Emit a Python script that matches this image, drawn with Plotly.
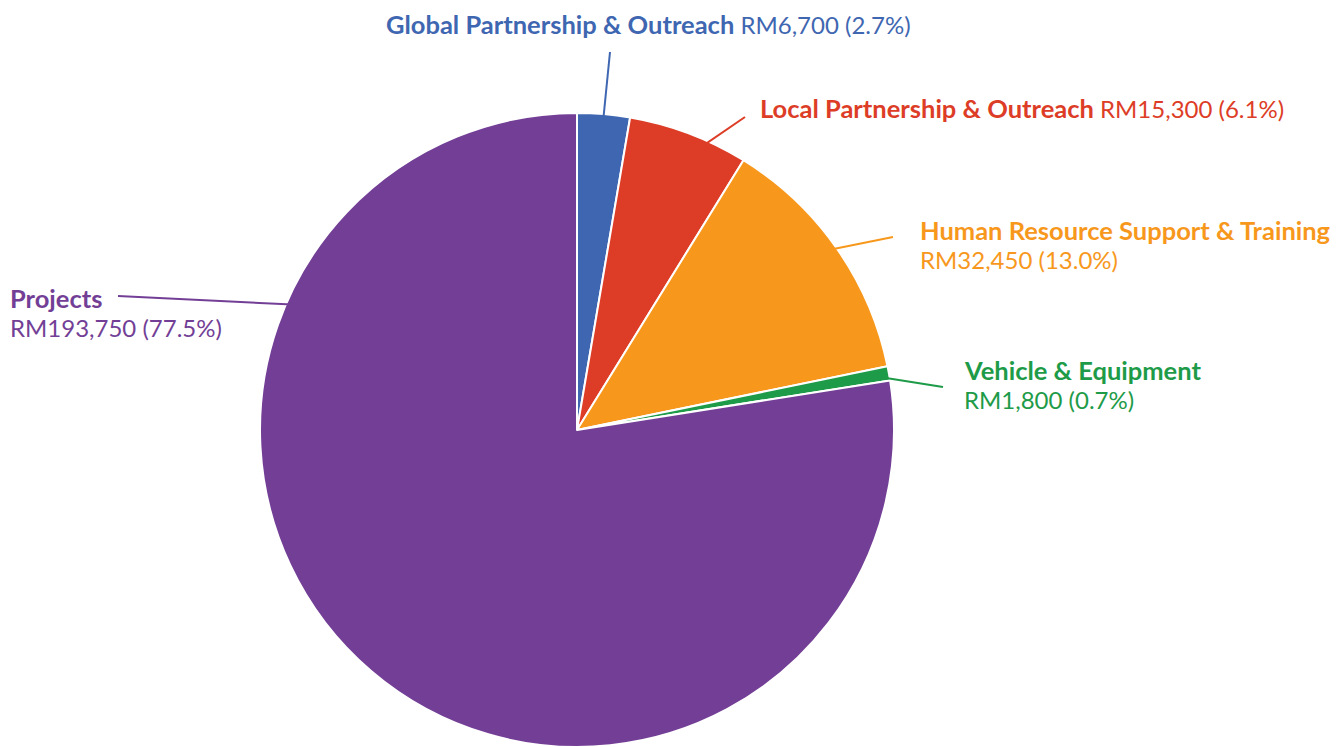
import math
import plotly.graph_objects as go

# ---- data ----
categories = ["Global Partnership & Outreach", "Local Partnership & Outreach",
              "Human Resource Support & Training", "Vehicle & Equipment", "Projects"]
values = [6700, 15300, 32450, 1800, 193750]
colors = ["#3F67B1", "#DD3D26", "#F7981D", "#1E9B48", "#733F96"]

# ---- layout constants (pixels) ----
W, H = 1337, 747
CX, CY, R = 577, 430, 317
# label anchor (left x, middle y of first line), two-line flag, leader outer end, leader position within slice
label_pos = [(384, 24), (758, 108), (918, 230), (962, 370), (8, 298)]
two_line = [False, False, True, True, True]
leader_end = [(610, 52), (745, 117), (893, 237), (943, 387), (118, 296)]
leader_frac = [0.5, 0.62, 0.48, 0.6, 0.764]
LINE_GAP = 29
FONT = "Lato"
FS_BOLD = 25.5
FS_REG = 24

total = sum(values)
pcts = [v / total * 100 for v in values]

fig = go.Figure(go.Pie(
    labels=categories, values=values, sort=False, direction="clockwise", rotation=0,
    marker=dict(colors=colors, line=dict(color="white", width=2)),
    textinfo="none", hoverinfo="label+value+percent", showlegend=False,
    domain=dict(x=[(CX - R) / W, (CX + R) / W],
                y=[max(0, (H - CY - R) / H), min(1, (H - CY + R) / H)]),
))


def px2paper(x, y):
    return x / W, 1 - y / H


def add_text(text, x, y, color, size):
    lx, ly = px2paper(x, y)
    annotations.append(dict(text=text, x=lx, y=ly, xref="paper", yref="paper",
                            xanchor="left", yanchor="middle", align="left", showarrow=False,
                            font=dict(family=FONT, size=size, color=color)))


shapes, annotations = [], []
cum = 0.0
for i, cat in enumerate(categories):
    start = cum
    cum += values[i] / total
    a = 2 * math.pi * (start + leader_frac[i] * values[i] / total)
    sx = CX + 0.965 * R * math.sin(a)
    sy = CY - 0.965 * R * math.cos(a)
    x0, y0 = px2paper(sx, sy)
    x1, y1 = px2paper(*leader_end[i])
    shapes.append(dict(type="line", xref="paper", yref="paper", x0=x0, y0=y0, x1=x1, y1=y1,
                       line=dict(color=colors[i], width=2)))
    value_txt = f"RM{values[i]:,} ({pcts[i]:.1f}%)"
    lx, ly = label_pos[i]
    if two_line[i]:
        add_text(f"<b>{cat}</b>", lx, ly, colors[i], FS_BOLD)
        add_text(value_txt, lx, ly + LINE_GAP, colors[i], FS_REG)
    else:
        add_text(f"<b><span style=\"font-size:{FS_BOLD}px\">{cat}</span></b> {value_txt}",
                 lx, ly, colors[i], FS_REG)

fig.update_layout(width=W, height=H, margin=dict(l=0, r=0, t=0, b=0),
                  paper_bgcolor="white", plot_bgcolor="white",
                  shapes=shapes, annotations=annotations)
fig.write_html("out.html", config={"displayModeBar": False},
               post_script="document.body.style.margin='0';")
